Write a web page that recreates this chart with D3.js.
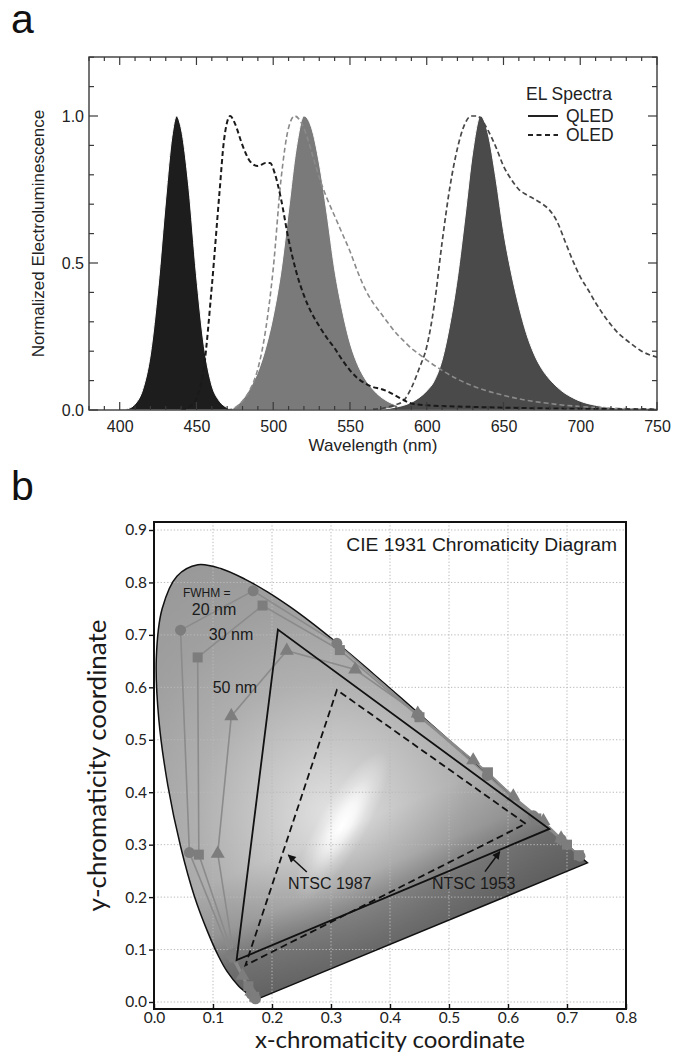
<!DOCTYPE html>
<html><head><meta charset="utf-8">
<script src="https://cdn.jsdelivr.net/npm/d3@7"></script>
<style>
html,body{margin:0;padding:0;background:#fff;}
svg{display:block;}
</style></head>
<body>
<svg id="chart" width="673" height="1057"></svg>
<script>
// ---------------- DATA : panel a (EL spectra) ----------------
const xTicksA = [400, 450, 500, 550, 600, 650, 700, 750];
const yTicksA = [0.0, 0.5, 1.0];

const qledBlue = [[400,0],[405,0.004],[410,0.02],[415,0.07],[420,0.19],[425,0.42],[430,0.72],[434,0.93],[437,1.0],[440,0.96],[445,0.76],[450,0.46],[455,0.22],[460,0.085],[465,0.03],[470,0.008],[475,0]];
const qledGreen = [[472,0],[475,0.01],[480,0.035],[485,0.075],[490,0.13],[495,0.21],[500,0.32],[505,0.47],[510,0.68],[515,0.89],[520,1.0],[525,0.96],[530,0.84],[535,0.67],[540,0.48],[545,0.34],[550,0.23],[555,0.155],[560,0.105],[565,0.07],[570,0.045],[575,0.028],[580,0.017],[585,0.01],[590,0.005],[600,0.002],[610,0]];
const qledRed = [[570,0],[575,0.005],[580,0.01],[585,0.016],[590,0.026],[595,0.042],[600,0.065],[605,0.1],[610,0.17],[615,0.29],[620,0.45],[625,0.66],[630,0.88],[635,1.0],[640,0.94],[645,0.79],[650,0.61],[655,0.47],[660,0.355],[665,0.26],[670,0.19],[675,0.14],[680,0.105],[685,0.078],[690,0.057],[695,0.042],[700,0.03],[710,0.016],[720,0.008],[730,0.004],[740,0.002],[750,0.001]];

const oledBlue = [[440,0],[445,0.01],[450,0.04],[455,0.15],[460,0.42],[465,0.74],[468,0.92],[472,1.0],[475,0.975],[480,0.9],[485,0.845],[490,0.83],[495,0.84],[498,0.84],[501,0.805],[505,0.72],[510,0.58],[515,0.47],[520,0.39],[525,0.33],[530,0.285],[535,0.245],[540,0.21],[545,0.17],[550,0.135],[555,0.108],[560,0.09],[565,0.078],[570,0.072],[575,0.062],[580,0.048],[585,0.034],[590,0.022],[600,0.016],[620,0.012],[650,0.008],[700,0.004],[750,0.002]];
const oledGreen = [[470,0],[475,0.008],[480,0.03],[485,0.07],[490,0.14],[495,0.27],[500,0.48],[505,0.78],[510,0.96],[514,1.0],[518,0.98],[522,0.93],[526,0.86],[531,0.775],[535,0.72],[540,0.66],[545,0.6],[550,0.54],[555,0.47],[560,0.41],[565,0.365],[570,0.33],[575,0.295],[580,0.262],[585,0.235],[590,0.21],[595,0.19],[600,0.17],[610,0.135],[620,0.105],[630,0.082],[640,0.064],[650,0.05],[660,0.038],[670,0.029],[680,0.022],[690,0.016],[700,0.012],[720,0.006],[740,0.003],[750,0.002]];
const oledRed = [[565,0.003],[570,0.005],[575,0.01],[580,0.018],[585,0.032],[590,0.075],[595,0.14],[600,0.215],[605,0.36],[610,0.57],[615,0.755],[620,0.89],[625,0.975],[629,1.0],[633,1.0],[636,0.985],[640,0.95],[645,0.895],[650,0.83],[655,0.785],[660,0.75],[665,0.732],[670,0.718],[675,0.702],[680,0.68],[685,0.64],[690,0.575],[695,0.51],[700,0.453],[705,0.41],[710,0.365],[715,0.325],[720,0.29],[725,0.26],[730,0.238],[735,0.218],[740,0.2],[745,0.188],[750,0.18]];

const legendTitle = "EL Spectra";
const legendItems = ["QLED", "OLED"];

// ---------------- DATA : panel b (CIE 1931) ----------------
const xTicksB = [0.0, 0.1, 0.2, 0.3, 0.4, 0.5, 0.6, 0.7, 0.8];
const yTicksB = [0.0, 0.1, 0.2, 0.3, 0.4, 0.5, 0.6, 0.7, 0.8, 0.9];

// spectral locus (380 ... 700 nm)
const cieX = [0.1741,0.1714,0.1644,0.1566,0.1440,0.1241,0.1096,0.0913,0.0687,0.0454,0.0235,0.0082,0.0039,0.0139,0.0389,0.0743,0.1142,0.1547,0.1929,0.2296,0.2658,0.3016,0.3373,0.3731,0.4087,0.4441,0.4788,0.5125,0.5448,0.5752,0.6029,0.6270,0.6658,0.6915,0.7079,0.7190,0.7260,0.7347];
const cieY = [0.0050,0.0051,0.0109,0.0177,0.0297,0.0578,0.0868,0.1327,0.2007,0.2950,0.4127,0.5384,0.6548,0.7502,0.8120,0.8338,0.8262,0.8059,0.7816,0.7543,0.7243,0.6923,0.6589,0.6245,0.5896,0.5547,0.5202,0.4866,0.4544,0.4242,0.3965,0.3725,0.3340,0.3083,0.2920,0.2809,0.2740,0.2653];

const ntsc1953 = [[0.67,0.33],[0.21,0.71],[0.14,0.08]];
const ntsc1987 = [[0.63,0.34],[0.31,0.595],[0.155,0.07]];

const fwhm20 = [[0.172,0.006],[0.165,0.015],[0.13,0.09],[0.06,0.285],[0.045,0.709],[0.168,0.784],[0.31,0.684],[0.447,0.548],[0.565,0.432],[0.643,0.355],[0.69,0.31],[0.722,0.278]];
const fwhm30 = [[0.17,0.01],[0.16,0.03],[0.135,0.085],[0.076,0.281],[0.074,0.657],[0.184,0.756],[0.315,0.671],[0.45,0.543],[0.566,0.438],[0.648,0.35],[0.7,0.3],[0.72,0.28]];
const fwhm50 = [[0.165,0.02],[0.15,0.05],[0.135,0.09],[0.108,0.283],[0.131,0.545],[0.225,0.67],[0.341,0.634],[0.447,0.55],[0.541,0.461],[0.609,0.392],[0.66,0.345],[0.69,0.312]];

// ---------------- DRAW ----------------
const svg = d3.select('#chart');
const defs = svg.append('defs');
const SANS = "'Liberation Sans', Arial, sans-serif";
const MYR = "Lato, 'Open Sans', sans-serif";

function fitWidth(sel, w) {
  const len = sel.node().getComputedTextLength();
  const fs = parseFloat(sel.attr('font-size'));
  sel.attr('font-size', (fs * w / len).toFixed(2));
}

// ===== Panel a =====
const A = {left: 89, right: 657, top: 57, bottom: 410};
const xa = d3.scaleLinear().domain([380, 750]).range([A.left, A.right]);
const ya = d3.scaleLinear().domain([0, 1.2]).range([A.bottom, A.bottom - 1.2 * 294]);

defs.append('clipPath').attr('id', 'clipA').append('rect')
  .attr('x', A.left).attr('y', A.top).attr('width', A.right - A.left).attr('height', A.bottom - A.top);

const gA = svg.append('g');
const plotA = gA.append('g').attr('clip-path', 'url(#clipA)');

const areaA = d3.area().x(d => xa(d[0])).y0(ya(0)).y1(d => ya(d[1])).curve(d3.curveMonotoneX);
const lineA = d3.line().x(d => xa(d[0])).y(d => ya(d[1])).curve(d3.curveMonotoneX);

[[qledBlue, '#1d1d1d'], [qledGreen, '#7a7a7a'], [qledRed, '#4a4a4a']].forEach(([data, c]) => {
  plotA.append('path').attr('d', areaA(data)).attr('fill', c).attr('stroke', '#fff').attr('stroke-width', 1);
});
[[oledGreen, '#8a8a8a', 1.6], [oledRed, '#474747', 1.7], [oledBlue, '#1a1a1a', 2]].forEach(([data, c, w]) => {
  plotA.append('path').attr('d', lineA(data)).attr('fill', 'none').attr('stroke', c)
    .attr('stroke-width', w).attr('stroke-dasharray', '5,3');
});

// ticks (inward on all four sides)
const frameColA = '#3a3a3a';
const xMinor = d3.range(380, 751, 10);
const yMinor = d3.range(0, 12.01, 1).map(v => v / 10);
const tickG = gA.append('g').attr('stroke', frameColA).attr('stroke-width', 1.2);
xMinor.forEach(v => {
  const L = (v % 50 === 0) ? 8 : 4;
  tickG.append('line').attr('x1', xa(v)).attr('x2', xa(v)).attr('y1', A.bottom).attr('y2', A.bottom - L);
  tickG.append('line').attr('x1', xa(v)).attr('x2', xa(v)).attr('y1', A.top).attr('y2', A.top + L);
});
yMinor.forEach(v => {
  const L = (Math.round(v * 10) % 5 === 0) ? 9 : 5;
  tickG.append('line').attr('y1', ya(v)).attr('y2', ya(v)).attr('x1', A.left).attr('x2', A.left + L);
  tickG.append('line').attr('y1', ya(v)).attr('y2', ya(v)).attr('x1', A.right).attr('x2', A.right - L);
});

gA.append('rect').attr('x', A.left).attr('y', A.top).attr('width', A.right - A.left).attr('height', A.bottom - A.top)
  .attr('fill', 'none').attr('stroke', frameColA).attr('stroke-width', 1.4);

// tick labels via d3 axes
const axBA = gA.append('g').attr('transform', `translate(0,${A.bottom})`)
  .call(d3.axisBottom(xa).tickValues(xTicksA).tickSize(0).tickPadding(11).tickFormat(d3.format('d')));
const axLA = gA.append('g').attr('transform', `translate(${A.left},0)`)
  .call(d3.axisLeft(ya).tickValues(yTicksA).tickSize(0).tickPadding(5).tickFormat(d3.format('.1f')));
[axBA, axLA].forEach(ax => {
  ax.select('.domain').remove();
  ax.selectAll('text').attr('font-family', SANS).attr('font-size', 16).attr('fill', '#222');
});

gA.append('text').attr('x', (A.left + A.right) / 2).attr('y', 451).attr('text-anchor', 'middle')
  .attr('font-family', SANS).attr('font-size', 17).attr('fill', '#222').text('Wavelength (nm)');
gA.append('text').attr('transform', `translate(44,${(A.top + A.bottom) / 2}) rotate(-90)`).attr('text-anchor', 'middle')
  .attr('font-family', SANS).attr('font-size', 17).attr('fill', '#222').text('Normalized Electroluminescence');

// legend
const lg = gA.append('g');
lg.append('text').attr('x', 526).attr('y', 100).attr('font-family', SANS).attr('font-size', 17.5).attr('fill', '#222').text(legendTitle);
legendItems.forEach((t, i) => {
  const yy = 116 + i * 19;
  lg.append('line').attr('x1', 528).attr('x2', 558).attr('y1', yy).attr('y2', yy)
    .attr('stroke', '#222').attr('stroke-width', 2).attr('stroke-dasharray', i === 1 ? '5,3.5' : null);
  lg.append('text').attr('x', 566).attr('y', yy + 6).attr('font-family', SANS).attr('font-size', 17.5).attr('fill', '#222').text(t);
});

svg.append('text').attr('x', 11).attr('y', 33).attr('font-family', SANS).attr('font-size', 41).attr('fill', '#111').text('a');

// ===== Panel b =====
const B = {left: 154, right: 626, top: 522, bottom: 1009};
const xb = d3.scaleLinear().domain([0, 0.8]).range([B.left, B.right]);
const yb = d3.scaleLinear().domain([0, 0.9]).range([1002, 530]);

const gB = svg.append('g');
const locus = cieX.map((x, i) => [x, cieY[i]]);
const locusLine = d3.line().x(d => xb(d[0])).y(d => yb(d[1])).curve(d3.curveCatmullRom.alpha(0.5));
const locusPath = locusLine(locus) + 'Z';

defs.append('clipPath').attr('id', 'clipLocus').append('path').attr('d', locusPath);

// base radial gradient
const c0 = [xb(0.30), yb(0.36)];
const rg = defs.append('radialGradient').attr('id', 'locusBase').attr('gradientUnits', 'userSpaceOnUse')
  .attr('cx', c0[0]).attr('cy', c0[1]).attr('r', 300).attr('fx', c0[0]).attr('fy', c0[1]);
[[0, '#e2e2e2'], [0.22, '#c8c8c8'], [0.45, '#afafaf'], [0.7, '#a0a0a0'], [1, '#979797']]
  .forEach(([o, c]) => rg.append('stop').attr('offset', o).attr('stop-color', c));

// white streak
const s0 = [xb(0.318), yb(0.335)];
const sg = defs.append('radialGradient').attr('id', 'streak').attr('gradientUnits', 'userSpaceOnUse')
  .attr('cx', 0).attr('cy', 0).attr('r', 1)
  .attr('gradientTransform', `translate(${s0[0]},${s0[1]}) rotate(-60) scale(85,24)`);
[[0, 1], [0.3, 0.8], [0.65, 0.3], [1, 0]].forEach(([o, a]) =>
  sg.append('stop').attr('offset', o).attr('stop-color', '#fff').attr('stop-opacity', a));

// darkening towards the purple line
const P1 = [xb(cieX[0]), yb(cieY[0])], P2 = [xb(cieX[cieX.length - 1]), yb(cieY[cieY.length - 1])];
const dx = P2[0] - P1[0], dy = P2[1] - P1[1], dl = Math.hypot(dx, dy);
const nrm = [dy / dl, -dx / dl];
const pA = [xb(0.45), yb(0.133)];
const lgD = defs.append('linearGradient').attr('id', 'darken').attr('gradientUnits', 'userSpaceOnUse')
  .attr('x1', pA[0]).attr('y1', pA[1]).attr('x2', pA[0] + 125 * nrm[0]).attr('y2', pA[1] + 125 * nrm[1]);
[[0, 0.4], [0.33, 0.32], [0.6, 0.12], [1, 0]].forEach(([o, a]) =>
  lgD.append('stop').attr('offset', o).attr('stop-color', '#000').attr('stop-opacity', a));

gB.append('path').attr('d', locusPath).attr('fill', 'url(#locusBase)');
const ov = gB.append('g').attr('clip-path', 'url(#clipLocus)');
ov.append('rect').attr('x', B.left).attr('y', B.top).attr('width', B.right - B.left).attr('height', B.bottom - B.top).attr('fill', 'url(#streak)');
ov.append('rect').attr('x', B.left).attr('y', B.top).attr('width', B.right - B.left).attr('height', B.bottom - B.top).attr('fill', 'url(#darken)');

// grid
const grid = gB.append('g').attr('stroke', '#b9b9b9').attr('stroke-width', 1).attr('stroke-dasharray', '1.3,2');
xTicksB.filter(v => v > 0 && v < 0.8).forEach(v =>
  grid.append('line').attr('x1', xb(v)).attr('x2', xb(v)).attr('y1', B.top).attr('y2', B.bottom));
yTicksB.forEach(v =>
  grid.append('line').attr('y1', yb(v)).attr('y2', yb(v)).attr('x1', B.left).attr('x2', B.right));

gB.append('path').attr('d', locusPath).attr('fill', 'none').attr('stroke', '#111').attr('stroke-width', 1.5);

// FWHM series
const serLine = d3.line().x(d => xb(d[0])).y(d => yb(d[1]));
const series = [[fwhm20, d3.symbolCircle, 95], [fwhm30, d3.symbolSquare, 100], [fwhm50, d3.symbolTriangle, 85]];
series.forEach(([data]) => {
  gB.append('path').attr('d', serLine(data)).attr('fill', 'none').attr('stroke', '#8b8b8b').attr('stroke-width', 1.6);
});
series.forEach(([data, sym, size]) => {
  gB.append('g').selectAll('path').data(data).join('path')
    .attr('transform', d => `translate(${xb(d[0])},${yb(d[1])})`)
    .attr('d', d3.symbol().type(sym).size(size))
    .attr('fill', '#7d7d7d');
});

// NTSC triangles
const triLine = d3.line().x(d => xb(d[0])).y(d => yb(d[1]));
gB.append('path').attr('d', triLine(ntsc1953) + 'Z').attr('fill', 'none').attr('stroke', '#111').attr('stroke-width', 1.8);
gB.append('path').attr('d', triLine(ntsc1987) + 'Z').attr('fill', 'none').attr('stroke', '#111').attr('stroke-width', 1.8)
  .attr('stroke-dasharray', '7,4');

// annotations
const ann = gB.append('g').attr('font-family', SANS).attr('fill', '#1a1a1a');
ann.append('text').attr('x', xb(0.049)).attr('y', yb(0.772)).attr('font-size', 12).text('FWHM =');
ann.append('text').attr('x', xb(0.064)).attr('y', yb(0.738)).attr('font-size', 16).text('20 nm');
ann.append('text').attr('x', xb(0.093)).attr('y', yb(0.690)).attr('font-size', 16).text('30 nm');
ann.append('text').attr('x', xb(0.0995)).attr('y', yb(0.589)).attr('font-size', 16).text('50 nm');
ann.append('text').attr('x', xb(0.227)).attr('y', yb(0.2155)).attr('font-size', 16).text('NTSC 1987');
ann.append('text').attr('x', xb(0.471)).attr('y', yb(0.2155)).attr('font-size', 16).text('NTSC 1953');
const title = ann.append('text').attr('x', xb(0.785)).attr('y', yb(0.86)).attr('text-anchor', 'end').attr('font-size', 17).text('CIE 1931 Chromaticity Diagram');
fitWidth(title, 271);

defs.append('marker').attr('id', 'arrow').attr('viewBox', '0 0 10 10').attr('refX', 9).attr('refY', 5)
  .attr('markerWidth', 10).attr('markerHeight', 8).attr('markerUnits', 'userSpaceOnUse').attr('orient', 'auto')
  .append('path').attr('d', 'M0,0 L10,5 L0,10 Z').attr('fill', '#111');
[[[0.259, 0.248], [0.2277, 0.2804]], [[0.561, 0.2485], [0.586, 0.2866]]].forEach(([t, h]) => {
  gB.append('line').attr('x1', xb(t[0])).attr('y1', yb(t[1])).attr('x2', xb(h[0])).attr('y2', yb(h[1]))
    .attr('stroke', '#111').attr('stroke-width', 1.5).attr('marker-end', 'url(#arrow)');
});

// frame + axes
gB.append('rect').attr('x', B.left).attr('y', B.top).attr('width', B.right - B.left).attr('height', B.bottom - B.top)
  .attr('fill', 'none').attr('stroke', '#111').attr('stroke-width', 2);
const axBB = gB.append('g').attr('transform', `translate(0,${B.bottom})`)
  .call(d3.axisBottom(xb).tickValues(xTicksB).tickSize(-5).tickPadding(3).tickFormat(d3.format('.1f')));
const axLB = gB.append('g').attr('transform', `translate(${B.left},0)`)
  .call(d3.axisLeft(yb).tickValues(yTicksB).tickSize(5).tickPadding(2).tickFormat(d3.format('.1f')));
[axBB, axLB].forEach(ax => {
  ax.select('.domain').remove();
  ax.selectAll('line').attr('stroke', '#111').attr('stroke-width', 1.4);
  ax.selectAll('text').attr('font-family', MYR).attr('font-size', 15.5).attr('fill', '#222');
});

const xt = gB.append('text').attr('x', (B.left + B.right) / 2).attr('y', 1048).attr('text-anchor', 'middle')
  .attr('font-family', MYR).attr('font-size', 24).attr('fill', '#1a1a1a').text('x-chromaticity coordinate');
fitWidth(xt, 270);
const yt = gB.append('text').attr('transform', `translate(106,${(B.top + B.bottom) / 2}) rotate(-90)`).attr('text-anchor', 'middle')
  .attr('font-family', MYR).attr('font-size', 24).attr('fill', '#1a1a1a').text('y-chromaticity coordinate');
fitWidth(yt, 292);

svg.append('text').attr('x', 11).attr('y', 500).attr('font-family', SANS).attr('font-size', 41).attr('fill', '#111').text('b');
</script>
</body></html>
